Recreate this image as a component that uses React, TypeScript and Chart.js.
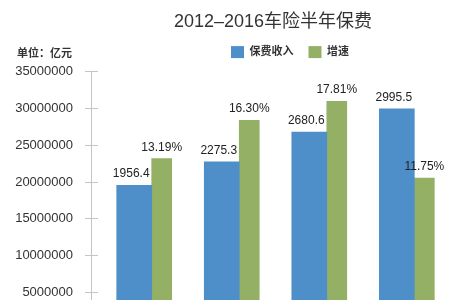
import React, { useEffect, useRef } from 'react';
import { Chart, registerables } from 'chart.js';

Chart.register(...registerables);

// ---- data ----
const categories = ['2013', '2014', '2015', '2016'];
const premiumValues = [19564000, 22753000, 26806000, 29955000];
const growthValues = [23190000, 28410000, 31000000, 20540000];
const premiumLabels = ['1956.4', '2275.3', '2680.6', '2995.5'];
const growthLabels = ['13.19%', '16.30%', '17.81%', '11.75%'];
const seriesNames = ['保费收入', '增速'];
const titleText = '2012–2016车险半年保费';
const unitText = '单位：亿元';
const yMin = 0;
const yMax = 35000000;
const yStep = 5000000;

// ---- style ----
const FONT = '"Helvetica Neue", Helvetica, Arial, "Liberation Sans", "Noto Sans CJK SC", sans-serif';
const BLUE = '#4e8fca';
const GREEN = '#93b064';
const AXIS = '#c4c4c4';
const TEXT = '#333333';

const barLabels = {
  id: 'barLabels',
  afterDatasetsDraw(chart: any) {
    const ctx = chart.ctx;
    ctx.save();
    ctx.font = '12px ' + FONT;
    ctx.fillStyle = '#222222';
    ctx.textAlign = 'center';
    ctx.textBaseline = 'alphabetic';
    chart.data.datasets.forEach((_ds: any, di: number) => {
      const meta = chart.getDatasetMeta(di);
      const labels = di === 0 ? premiumLabels : growthLabels;
      const dx = di === 0 ? -3 : 0;
      meta.data.forEach((el: any, i: number) => {
        ctx.fillText(labels[i], el.x + dx, el.y - 8);
      });
    });
    ctx.restore();
  },
};

export default function App() {
  const canvasRef = useRef<HTMLCanvasElement | null>(null);

  useEffect(() => {
    if (!canvasRef.current) return;
    Chart.defaults.font.family = FONT;
    Chart.defaults.color = TEXT;
    const chart = new Chart(canvasRef.current, {
      type: 'bar',
      data: {
        datasets: [
          {
            label: seriesNames[0],
            data: categories.map((_c, i) => ({ x: i, y: premiumValues[i] })),
            backgroundColor: BLUE,
            barThickness: 35,
          } as any,
          {
            label: seriesNames[1],
            data: categories.map((_c, i) => ({ x: i, y: growthValues[i] })),
            backgroundColor: GREEN,
            barThickness: 20,
          } as any,
        ],
      },
      options: {
        responsive: false,
        animation: false,
        devicePixelRatio: 1,
        layout: { padding: { left: 0, right: 0, top: 0, bottom: 20 } },
        plugins: {
          title: {
            display: true,
            text: titleText,
            font: { size: 18, weight: 'normal' },
            color: TEXT,
            padding: { top: 11.5, bottom: -2 },
            fullSize: true,
          },
          legend: {
            display: true,
            position: 'top',
            fullSize: false,
            labels: {
              boxWidth: 13,
              boxHeight: 12,
              padding: 15,
              font: { size: 11, weight: 'bold' },
              color: TEXT,
            },
          },
          subtitle: {
            display: true,
            text: ' ',
            position: 'top',
            weight: 500,
            fullSize: false,
            font: { size: 3.13 },
            padding: 0,
          },
          tooltip: { enabled: false },
        },
        scales: {
          x: {
            type: 'linear',
            display: false,
            offset: false,
            min: -0.6935,
            max: 3.853,
          },
          y: {
            min: yMin,
            max: yMax,
            ticks: {
              stepSize: yStep,
              padding: 12,
              font: { size: 13 },
              color: TEXT,
              callback: (v: any) => String(v),
            },
            grid: {
              drawOnChartArea: true,
              color: AXIS,
              tickColor: AXIS,
              tickLength: 6,
            },
            border: { display: true, color: AXIS, dash: [6, 2000] },
            afterFit: (s: any) => {
              s.width = 91;
            },
          },
          yRight: {
            type: 'linear',
            position: 'right',
            display: true,
            min: yMin,
            max: yMax,
            grid: { display: false, drawTicks: false },
            border: { display: false },
            ticks: { display: false },
            afterFit: (s: any) => {
              s.width = 57;
            },
          },
        },
      } as any,
      plugins: [barLabels as any],
    });
    return () => chart.destroy();
  }, []);

  return (
    <div
      style={{
        position: 'absolute',
        left: 0,
        top: 0,
        width: 450,
        height: 300,
        overflow: 'hidden',
        background: '#ffffff',
      }}
    >
      <canvas ref={canvasRef} width={546} height={349} style={{ display: 'block', width: 546, height: 349 }} />
      <div
        style={{
          position: 'absolute',
          left: 17,
          top: 47,
          fontSize: 11,
          lineHeight: '12px',
          fontWeight: 'bold',
          color: TEXT,
          fontFamily: FONT,
          whiteSpace: 'nowrap',
        }}
      >
        {unitText}
      </div>
    </div>
  );
}
